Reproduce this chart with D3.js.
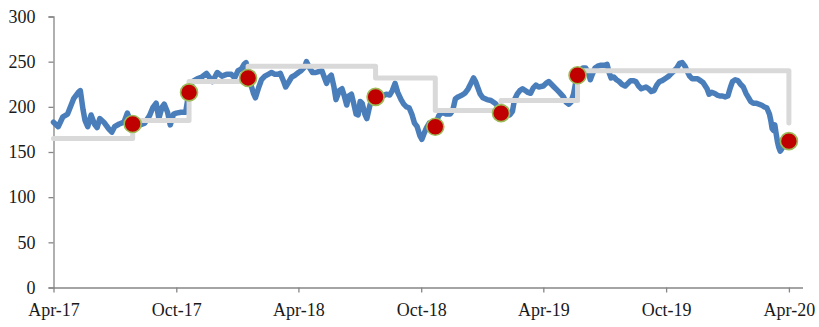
<!DOCTYPE html>
<html>
<head>
<meta charset="utf-8">
<script src="https://cdn.jsdelivr.net/npm/d3@7"></script>
<style>
  html, body { margin: 0; padding: 0; background: #fff; }
  svg { display: block; }
  .lbl { font-family: "Liberation Serif", "Times New Roman", serif; font-size: 18px; fill: #1a1a1a; }
</style>
</head>
<body>
<svg id="chart" width="819" height="327"></svg>
<script>
// ---- Data ----
const price = [
["2017-04-01",183],["2017-04-08",178],["2017-04-15",189],["2017-04-22",192],
["2017-05-01",209],["2017-05-08",216],["2017-05-11",218],["2017-05-15",197],["2017-05-18",185],["2017-05-22",178],["2017-05-27",191],
["2017-06-01",181],["2017-06-05",177],["2017-06-09",187],["2017-06-15",183],["2017-06-22",176],["2017-06-27",172],
["2017-07-01",178],["2017-07-08",181],["2017-07-15",183],["2017-07-20",193],["2017-07-25",184],["2017-07-28",178],
["2017-08-01",179],["2017-08-08",180],["2017-08-15",182],["2017-08-22",190],["2017-08-27",199],
["2017-09-01",204],["2017-09-05",187],["2017-09-10",200],["2017-09-13",203],["2017-09-18",194],["2017-09-22",180],["2017-09-27",192],
["2017-10-01",193],["2017-10-08",194],["2017-10-15",194],["2017-10-18",208],["2017-10-20",217],["2017-10-25",228],
["2017-11-01",231],["2017-11-08",233],["2017-11-15",237],["2017-11-20",232],["2017-11-24",228],
["2017-12-01",238],["2017-12-08",234],["2017-12-15",236],["2017-12-22",236],["2017-12-27",232],
["2018-01-01",240],["2018-01-06",242],["2018-01-10",247],["2018-01-13",249],["2018-01-16",236],["2018-01-20",225],["2018-01-24",215],["2018-01-27",210],
["2018-02-01",222],["2018-02-05",230],["2018-02-10",234],["2018-02-15",236],["2018-02-20",238],["2018-02-25",236],
["2018-03-01",236],["2018-03-05",237],["2018-03-10",228],["2018-03-13",222],["2018-03-18",228],["2018-03-22",233],["2018-03-27",235],
["2018-04-01",238],["2018-04-05",240],["2018-04-10",244],["2018-04-13",250],["2018-04-17",244],["2018-04-22",238],["2018-04-27",238],
["2018-05-01",239],["2018-05-06",240],["2018-05-10",232],["2018-05-13",226],["2018-05-16",232],["2018-05-20",235],["2018-05-24",222],["2018-05-27",208],
["2018-06-01",218],["2018-06-05",220],["2018-06-08",213],["2018-06-12",202],["2018-06-15",212],["2018-06-19",214],["2018-06-22",205],["2018-06-26",192],["2018-06-29",191],
["2018-07-02",206],["2018-07-05",204],["2018-07-09",192],["2018-07-12",187],["2018-07-16",200],["2018-07-19",208],["2018-07-22",207],["2018-07-25",210],["2018-07-30",212],
["2018-08-05",212],["2018-08-10",214],["2018-08-15",213],["2018-08-19",218],["2018-08-23",226],["2018-08-27",216],
["2018-09-01",208],["2018-09-05",203],["2018-09-09",200],["2018-09-13",199],["2018-09-17",192],["2018-09-21",182],["2018-09-25",178],["2018-09-29",168],
["2018-10-02",164],["2018-10-05",170],["2018-10-09",177],["2018-10-13",182],["2018-10-17",182],["2018-10-22",180],["2018-10-27",190],
["2018-11-01",194],["2018-11-07",192],["2018-11-13",192],["2018-11-17",196],["2018-11-21",209],["2018-11-25",211],
["2018-12-01",213],["2018-12-05",215],["2018-12-10",220],["2018-12-14",226],["2018-12-18",232],["2018-12-21",228],["2018-12-24",222],["2018-12-28",214],
["2019-01-01",210],["2019-01-07",208],["2019-01-13",207],["2019-01-19",204],["2019-01-24",200],["2019-01-28",196],
["2019-02-01",194],["2019-02-06",192],["2019-02-10",191],["2019-02-14",195],["2019-02-17",208],["2019-02-21",214],["2019-02-25",218],
["2019-03-01",220],["2019-03-05",218],["2019-03-09",216],["2019-03-13",215],["2019-03-17",221],["2019-03-21",224],["2019-03-25",222],
["2019-04-01",223],["2019-04-05",226],["2019-04-09",228],["2019-04-13",225],["2019-04-17",222],["2019-04-21",219],["2019-04-25",216],
["2019-05-01",211],["2019-05-05",205],["2019-05-09",203],["2019-05-12",205],["2019-05-16",214],["2019-05-19",226],["2019-05-22",235],["2019-05-26",240],["2019-05-30",243],
["2019-06-03",243],["2019-06-07",238],["2019-06-10",230],["2019-06-13",236],["2019-06-17",243],["2019-06-21",245],["2019-06-25",246],
["2019-07-01",246],["2019-07-05",247],["2019-07-08",238],["2019-07-11",232],["2019-07-15",233],["2019-07-19",230],["2019-07-23",228],["2019-07-27",225],
["2019-08-01",223],["2019-08-05",226],["2019-08-09",229],["2019-08-13",229],["2019-08-17",228],["2019-08-21",223],["2019-08-25",220],
["2019-09-01",222],["2019-09-05",220],["2019-09-09",217],["2019-09-13",218],["2019-09-17",224],["2019-09-21",228],["2019-09-25",229],
["2019-10-01",232],["2019-10-05",234],["2019-10-09",237],["2019-10-13",240],["2019-10-17",243],["2019-10-21",248],["2019-10-25",249],["2019-10-29",245],
["2019-11-01",240],["2019-11-05",234],["2019-11-09",231],["2019-11-13",231],["2019-11-17",231],["2019-11-21",229],["2019-11-25",227],
["2019-12-01",220],["2019-12-04",214],["2019-12-08",216],["2019-12-12",215],["2019-12-16",213],["2019-12-20",212],["2019-12-24",212],["2019-12-28",211],
["2020-01-01",212],["2020-01-05",222],["2020-01-08",228],["2020-01-12",230],["2020-01-16",229],["2020-01-20",225],["2020-01-24",222],["2020-01-28",215],
["2020-02-01",210],["2020-02-04",206],["2020-02-08",204],["2020-02-12",204],["2020-02-16",203],["2020-02-20",202],["2020-02-24",200],["2020-02-28",199],
["2020-03-03",192],["2020-03-05",185],["2020-03-07",176],["2020-03-09",174],["2020-03-11",180],["2020-03-13",170],["2020-03-15",161],["2020-03-17",155],
["2020-03-19",151],["2020-03-21",153],["2020-03-23",157],["2020-03-25",156],["2020-03-27",158],["2020-03-30",160],["2020-04-01",162]
];

const stepDates  = ["2017-04-01","2017-07-28","2017-10-20","2018-01-16","2018-07-25","2018-10-22","2019-01-28","2019-05-22","2020-04-01"];
const stepValues = [165, 185, 228, 245, 232, 196, 207, 240, 182];

const dotDates  = ["2017-07-28","2017-10-20","2018-01-16","2018-07-25","2018-10-22","2019-01-28","2019-05-22","2020-04-01"];
const dotValues = [181, 216, 232, 211, 178, 193, 235, 162];

const yTicks = [0, 50, 100, 150, 200, 250, 300];
const xTickDates = ["2017-04-01","2017-10-01","2018-04-01","2018-10-01","2019-04-01","2019-10-01","2020-04-01"];
const xTickLabels = ["Apr-17","Oct-17","Apr-18","Oct-18","Apr-19","Oct-19","Apr-20"];

// ---- Chart ----
const parse = d3.utcParse("%Y-%m-%d");
const svg = d3.select("#chart");
const x = d3.scaleUtc().domain([parse("2017-04-01"), parse("2020-04-22")]).range([53.5, 803]);
const y = d3.scaleLinear().domain([0, 300]).range([287.5, 16.5]);
const axisColor = "#868686";

// y axis
const yAxis = svg.append("g").attr("transform", "translate(53.5,0)")
  .call(d3.axisLeft(y).tickValues(yTicks).tickSize(5).tickPadding(13).tickFormat(d3.format("d")));
yAxis.select(".domain").attr("stroke", axisColor).attr("stroke-width", 1.3);
yAxis.selectAll(".tick line").attr("stroke", axisColor).attr("stroke-width", 1.3);
yAxis.selectAll(".tick text").attr("class", "lbl").attr("font-family", null).attr("font-size", null).attr("fill", null);

// x axis
const xAxis = svg.append("g").attr("transform", "translate(0,287.5)")
  .call(d3.axisBottom(x).tickValues(xTickDates.map(parse)).tickSize(5).tickPadding(11)
    .tickFormat((d, i) => xTickLabels[i]));
xAxis.select(".domain").attr("stroke", axisColor).attr("stroke-width", 1.3)
  .attr("d", `M53.5,0.5H803`);
xAxis.selectAll(".tick line").attr("stroke", axisColor).attr("stroke-width", 1.3);
xAxis.selectAll(".tick text").attr("class", "lbl").attr("font-family", null).attr("font-size", null).attr("fill", null);

// price line
const line = d3.line().x(d => x(parse(d[0]))).y(d => y(d[1]));
svg.append("path").datum(price)
  .attr("d", line)
  .attr("fill", "none").attr("stroke", "#4a7ebb").attr("stroke-width", 5.5)
  .attr("stroke-linejoin", "round").attr("stroke-linecap", "round");

// step line
const stepData = stepDates.map((d, i) => [d, stepValues[i]]);
const stepLine = d3.line().curve(d3.curveStepAfter).x(d => x(parse(d[0]))).y(d => y(d[1]));
svg.append("path").datum(stepData)
  .attr("d", stepLine)
  .attr("fill", "none").attr("stroke", "#d9d9d9").attr("stroke-width", 5)
  .attr("stroke-linejoin", "round").attr("stroke-linecap", "round");

// dots
svg.append("g").selectAll("circle")
  .data(dotDates.map((d, i) => [d, dotValues[i]]))
  .join("circle")
  .attr("cx", d => x(parse(d[0]))).attr("cy", d => y(d[1]))
  .attr("r", 8.5)
  .attr("fill", "#c00000").attr("stroke", "#9bbb59").attr("stroke-width", 1.6);
</script>
</body>
</html>
